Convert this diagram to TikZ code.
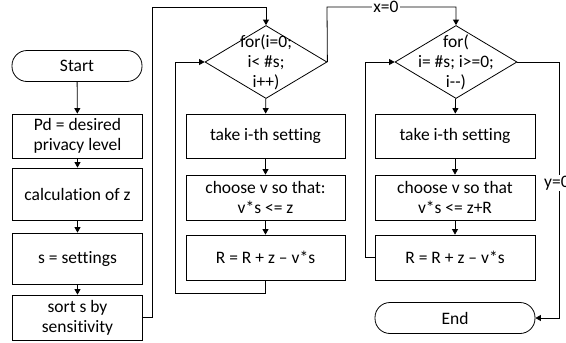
\documentclass[tikz,border=0pt]{standalone}
\usepackage{fontspec}
\setmainfont{Carlito}[Ligatures={TeX,NoCommon}]
\usetikzlibrary{arrows.meta,shapes.geometric}
\begin{document}
\begin{tikzpicture}[x=1pt,y=-1pt,
  every node/.style={font=\fontsize{17.5}{20}\selectfont},
  box/.style={draw,line width=0.8pt,inner sep=0pt,align=center},
  term/.style={box,rounded corners=15pt,minimum width=130pt,minimum height=31pt},
  dia/.style={draw,line width=0.8pt,diamond,inner sep=0pt,minimum width=122pt,minimum height=73pt},
  link/.style={line width=0.8pt,-{Triangle[length=5.5pt,width=6pt]}},
  tag/.style={fill=white,inner sep=1pt}]
\useasboundingbox (0,0) rectangle (566,343);

% left column: preparation
\node[term] (start) at (77,66) {Start};
\node[box,minimum width=130pt,minimum height=44pt] (pd) at (77.5,136) {Pd = desired\\privacy level};
\node[box,minimum width=130pt,minimum height=52pt] (calc) at (77.5,194) {calculation of z};
\node[box,minimum width=130pt,minimum height=51pt] (set) at (77.5,258.5) {s = settings};
\node[box,minimum width=130pt,minimum height=45pt] (sort) at (77.5,317.5) {sort s by\\sensitivity};

% middle column: first loop
\node[dia] (d1) at (266,62) {};
\node[align=center] (d1t) at (266,62) {for(i=0;\\i< \#s;\\i++)};
\node[box,minimum width=159pt,minimum height=44pt] (take1) at (265.5,136) {take i-th setting};
\node[box,minimum width=159pt,minimum height=45pt] (ch1) at (265.5,197.5) {choose v so that:\\v*s <= z};
\node[box,minimum width=159pt,minimum height=45pt] (r1) at (265.5,257.5) {R = R + z – v*s};

% right column: second loop
\node[dia] (d2) at (456,62) {};
\node[align=center] (d2t) at (456,62) {for(\\i= \#s; i>=0;\\i-{}-)};
\node[box,minimum width=160pt,minimum height=44pt] (take2) at (455,136) {take i-th setting};
\node[box,minimum width=160pt,minimum height=45pt] (ch2) at (455,197.5) {choose v so that\\v*s <= z+R};
\node[box,minimum width=160pt,minimum height=45pt] (r2) at (455,257.5) {R = R + z – v*s};
\node[term,minimum width=160pt] (end) at (455,318) {End};

% routing points
\coordinate (c1) at (152,7);
\coordinate (c2) at (175,293);
\coordinate (c3) at (327,7);
\coordinate (c4) at (365,62);
\coordinate (c5) at (559,62);

% connectors
\draw[link] (start) -- (pd);
\draw[link] (pd) -- (calc);
\draw[link] (calc) -- (set);
\draw[link] (set) -- (sort);
\draw[link] (sort.east) -| (c1) -| (d1.north);
\draw[link] (d1) -- (take1);
\draw[link] (take1) -- (ch1);
\draw[link] (ch1) -- (r1);
\draw[link] (r1.south) |- (c2) |- (d1.west);
\draw[link] (d1.east) -- (c3) -| (d2.north);
\node[tag] (x0) at (386,7) {x=0};
\draw[link] (d2) -- (take2);
\draw[link] (take2) -- (ch2);
\draw[link] (ch2) -- (r2);
\draw[link] (r2.west) -| (c4) -- (d2.west);
\draw[link] (d2.east) -- (c5) |- (end.east);
\node[tag] (y0) at (557,183) {y=0};
\end{tikzpicture}
\end{document}
